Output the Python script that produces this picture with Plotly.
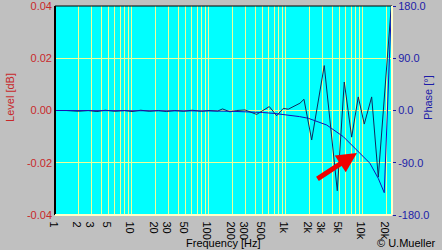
import plotly.graph_objects as go

# ---- data ----
level_freq = [1, 1.4, 2, 2.7, 3.5, 4.5, 6, 8, 10, 13, 17, 22, 28, 36, 47, 60, 80, 100, 130,
              150, 187, 230, 294, 416, 607, 757, 922, 1071, 1520, 1713, 2157, 3141, 4637,
              5718, 7129, 8690, 10400, 12970, 15810, 23450]
level_db = [0.0, 0.0, -0.0003, 0.0, -0.0004, 0.0001, -0.0003, 0.0, -0.0004, 0.0001, -0.0003,
            0.0, -0.0004, 0.0, -0.0003, 0.0001, -0.0003, 0.0, -0.0002, 0.0006, -0.0005,
            0.0, 0.0002, -0.0015, 0.0015, -0.002, 0.0008, 0.0005, 0.0028, 0.0043, -0.0113,
            0.0172, -0.0307, 0.0109, -0.0102, 0.0052, -0.0052, 0.0052, -0.0255, 0.041]

phase_freq = [1, 10, 100, 200, 300, 500, 700, 1000, 1500, 1949, 3378, 5550, 8280, 12330,
              15810, 18900, 23450]
phase_deg = [0, 0, -0.7, -1.4, -2, -3.5, -5, -7, -10.5, -13.4, -25, -45, -68, -91,
             -117, -141.6, 182]

x_grid_vals = [1, 2, 3, 4, 5, 6, 7, 8, 9,
               10, 20, 30, 40, 50, 60, 70, 80, 90,
               100, 200, 300, 400, 500, 600, 700, 800, 900,
               1000, 2000, 3000, 4000, 5000, 6000, 7000, 8000, 9000,
               10000, 20000]
x_grid_text = ["1", "2", "3", "", "5", "", "", "", "",
               "10", "20", "30", "", "50", "", "", "", "",
               "100", "200", "300", "", "500", "", "", "", "",
               "1k", "2k", "3k", "", "5k", "", "", "", "",
               "10k", "20k"]
level_ticks = [-0.04, -0.02, 0.0, 0.02, 0.04]
level_tick_text = ["-0.04", "-0.02", "0.00", "0.02", "0.04"]
phase_ticks = [-180, -90, 0, 90, 180]
phase_tick_text = ["-180.0", "-90.0", "0.0", "90.0", "180.0"]

FONT = "Liberation Sans, Arial, sans-serif"
RED = "#C8282A"
BLUE = "#1C1CA8"
GRID = "#EEFF96"

fig = go.Figure()
fig.add_trace(go.Scatter(x=level_freq, y=level_db, mode="lines",
                         line=dict(color="#0E2A5C", width=1), yaxis="y", showlegend=False))
fig.add_trace(go.Scatter(x=phase_freq, y=phase_deg, mode="lines",
                         line=dict(color="#1414B4", width=1), yaxis="y2", showlegend=False))

fig.update_layout(
    width=442, height=250,
    margin=dict(l=55, r=50, t=6, b=35, pad=0, autoexpand=False),
    paper_bgcolor="#C0C0C0", plot_bgcolor="#00FFFF",
    font=dict(family=FONT, size=11, color="black"),
    showlegend=False,
    xaxis=dict(type="log", range=[0, 4.377], tickvals=x_grid_vals, ticktext=x_grid_text,
               showgrid=True, gridcolor=GRID, gridwidth=1, zeroline=False, ticks="",
               tickfont=dict(family=FONT, size=11, color="black"), showline=False,
               ticklabelstandoff=0, ticklabeloverflow="allow", automargin=False),
    yaxis=dict(range=[-0.04, 0.04], tickvals=level_ticks, ticktext=level_tick_text,
               showgrid=True, gridcolor=GRID, gridwidth=1, zeroline=False, ticks="",
               tickfont=dict(family=FONT, size=11, color=RED), showline=False,
               ticklabelstandoff=2, ticklabeloverflow="allow", automargin=False),
    yaxis2=dict(range=[-180, 180], tickvals=phase_ticks, ticktext=phase_tick_text,
                overlaying="y", side="right", showgrid=False, zeroline=False,
                ticks="outside", ticklen=3, tickcolor=BLUE,
                tickfont=dict(family=FONT, size=11, color=BLUE), showline=False,
                ticklabeloverflow="allow", automargin=False),
    shapes=[
        dict(type="line", xref="paper", yref="paper", x0=0, x1=0, y0=0, y1=1,
             line=dict(color="black", width=2)),
        dict(type="line", xref="paper", yref="paper", x0=0, x1=1, y0=1, y1=1,
             line=dict(color="black", width=1)),
        dict(type="line", xref="paper", yref="paper", x0=0, x1=1, y0=0, y1=0,
             line=dict(color="#FFFFC8", width=2)),
        dict(type="line", xref="paper", yref="paper", x0=1, x1=1, y0=0, y1=1,
             line=dict(color="#FFFFC8", width=2)),
    ],
    annotations=[
        dict(text="Frequency [Hz]", xref="paper", yref="paper", x=0.5, y=-0.135,
             xanchor="center", yanchor="middle", showarrow=False,
             font=dict(family=FONT, size=11, color="black")),
        dict(text="Level [dB]", xref="paper", yref="paper", x=0, xshift=-45, y=0.56,
             xanchor="center", yanchor="middle", textangle=-90, showarrow=False,
             font=dict(family=FONT, size=11, color=RED)),
        dict(text="Phase [°]", xref="paper", yref="paper", x=1, xshift=36, y=0.56,
             xanchor="center", yanchor="middle", textangle=-90, showarrow=False,
             font=dict(family=FONT, size=11, color=BLUE)),
        dict(text="© U.Mueller", xref="paper", yref="paper", x=1, xshift=46, y=-0.135,
             xanchor="right", yanchor="middle", showarrow=False,
             font=dict(family=FONT, size=11, color="black")),
        dict(text="", xref="paper", yref="paper", x=0.896, y=0.297,
             ax=-41, ay=27, axref="pixel", ayref="pixel", showarrow=True,
             arrowhead=2, arrowsize=0.8, arrowwidth=5, arrowcolor="#F00000"),
    ],
)

fig.write_html("out.html")
